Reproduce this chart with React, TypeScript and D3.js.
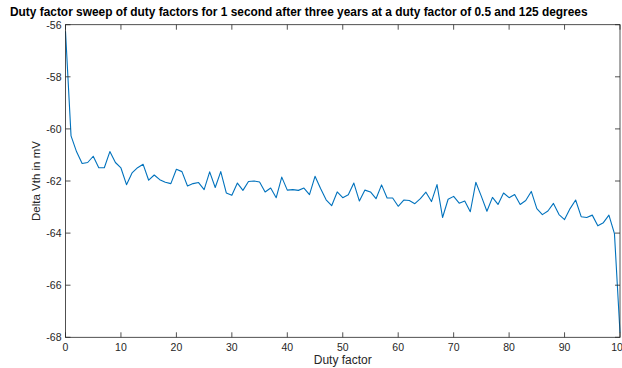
import React from "react";
import * as d3 from "d3";

const dutyFactors: number[] = d3.range(0, 101);
const deltaVth: number[] = [
  -56.25, -60.27, -60.88, -61.33, -61.29, -61.05, -61.49, -61.49, -60.87, -61.29,
  -61.5, -62.14, -61.69, -61.49, -61.36, -61.97, -61.77, -61.95, -62.05, -62.1,
  -61.55, -61.64, -62.19, -62.1, -62.06, -62.33, -61.65, -62.25, -61.64, -62.46,
  -62.55, -62.08, -62.36, -62.02, -62.0, -62.04, -62.42, -62.27, -62.64, -61.85,
  -62.35, -62.33, -62.36, -62.27, -62.52, -61.82, -62.29, -62.72, -62.95, -62.42,
  -62.64, -62.53, -62.08, -62.77, -62.35, -62.42, -62.68, -62.15, -62.65, -62.65,
  -62.97, -62.73, -62.75, -62.87, -62.68, -62.43, -62.79, -62.14, -63.4, -62.7,
  -62.59, -62.85, -62.77, -63.18, -62.05, -62.59, -63.16, -62.63, -62.9, -62.46,
  -62.64, -62.52, -62.9, -62.75, -62.4, -63.06, -63.29, -63.15, -62.86, -63.29,
  -63.48, -63.06, -62.73, -63.37, -63.4, -63.31, -63.72, -63.6, -63.31, -64.02,
  -67.82,
];
const xTicks: number[] = [0, 10, 20, 30, 40, 50, 60, 70, 80, 90, 100];
const yTicks: number[] = [-68, -66, -64, -62, -60, -58, -56];
const titleText =
  "Duty factor sweep of duty factors for 1 second after three years at a duty factor of 0.5 and 125 degrees";

export default function App() {
  const W = 622, H = 368;
  const left = 65.5, right = 620, top = 24.7, bottom = 337.3;
  const x = d3.scaleLinear().domain([0, 100]).range([left, right]);
  const y = d3.scaleLinear().domain([-68, -56]).range([bottom, top]);
  const line = d3
    .line<number>()
    .x((_, i) => x(dutyFactors[i]))
    .y((d) => y(d));
  const axisColor = "#262626";
  const font = "'Liberation Sans', Arial, Helvetica, sans-serif";
  const tl = 5;
  return (
    <div style={{ position: "fixed", left: 0, top: 0, width: W, height: H, background: "#fff" }}>
      <svg width={W} height={H} style={{ display: "block" }} fontFamily={font}>
        <rect x={0} y={0} width={W} height={H} fill="#fff" />
        <path d={line(deltaVth) || ""} fill="none" stroke="#0072BD" strokeWidth={1.1} strokeLinejoin="round" />
        <g stroke={axisColor} strokeWidth={0.8} fill="none">
          <rect x={left} y={top} width={right - left} height={bottom - top} />
          {xTicks.map((t) => (
            <g key={"xt" + t}>
              <line x1={x(t)} x2={x(t)} y1={bottom} y2={bottom - tl} />
              <line x1={x(t)} x2={x(t)} y1={top} y2={top + tl} />
            </g>
          ))}
          {yTicks.map((t) => (
            <g key={"yt" + t}>
              <line x1={left} x2={left + tl} y1={y(t)} y2={y(t)} />
              <line x1={right} x2={right - tl} y1={y(t)} y2={y(t)} />
            </g>
          ))}
        </g>
        <g fill={axisColor} fontSize={10.5}>
          {xTicks.map((t) => (
            <text key={"xl" + t} x={x(t)} y={bottom + 14} textAnchor="middle">
              {t}
            </text>
          ))}
          {yTicks.map((t) => (
            <text key={"yl" + t} x={left - 4} y={y(t) + 4} textAnchor="end">
              {t}
            </text>
          ))}
        </g>
        <text x={(left + right) / 2} y={364} textAnchor="middle" fontSize={12} fill={axisColor}>
          Duty factor
        </text>
        <text
          transform={`translate(${40},${(top + bottom) / 2}) rotate(-90)`}
          textAnchor="middle"
          fontSize={11.5}
          fill={axisColor}
        >
          Delta Vth in mV
        </text>
        <text x={10} y={16} fontSize={11.9} fontWeight="bold" fill="#000">
          {titleText}
        </text>
      </svg>
    </div>
  );
}
